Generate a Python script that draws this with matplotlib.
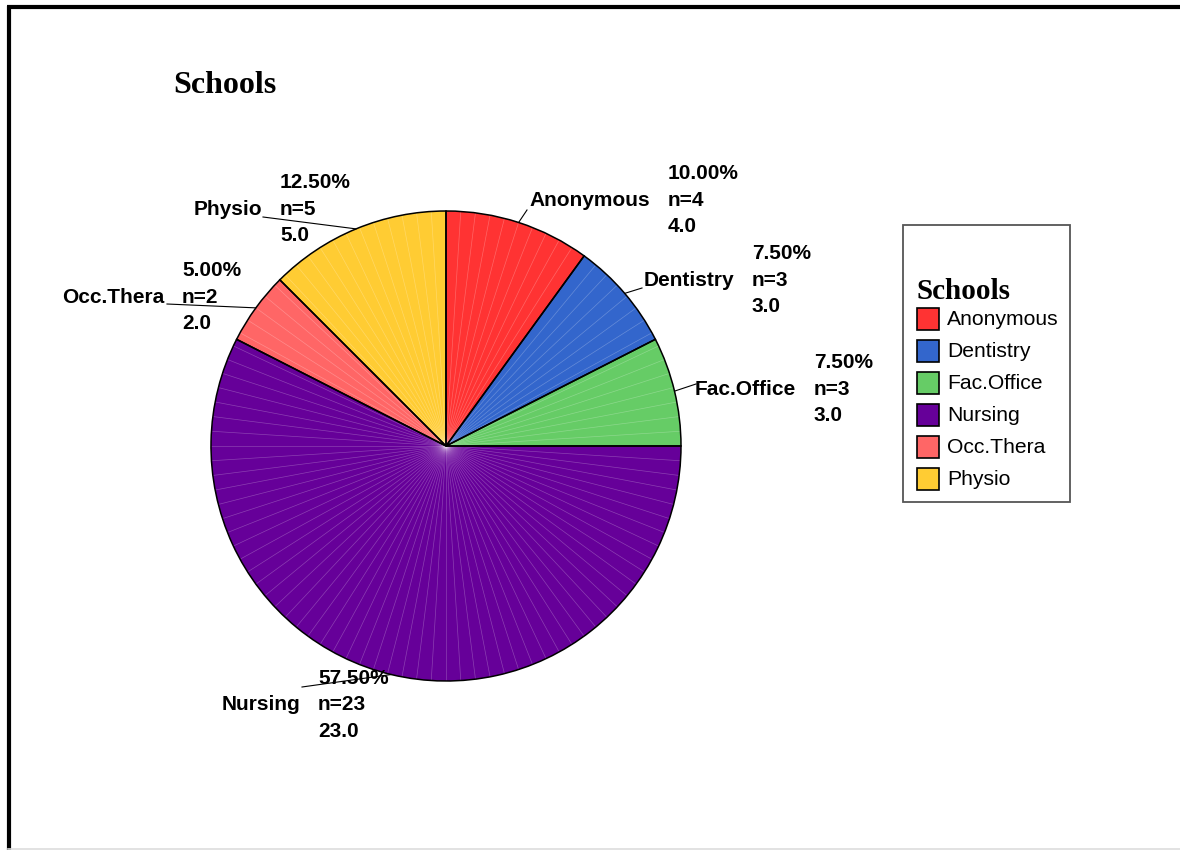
import numpy as np
import matplotlib
matplotlib.use("Agg")
import matplotlib.pyplot as plt
from matplotlib.patches import Rectangle
from matplotlib.lines import Line2D

# Survey responses by school
schools = ["Anonymous", "Dentistry", "Fac.Office", "Nursing", "Occ.Thera", "Physio"]
counts = [4, 3, 3, 23, 2, 5]
colors = ["#FF3333", "#3366CC", "#66CC66", "#660099", "#FF6666", "#FFCC33"]
title = "Schools"

W, H = 1180, 850
fig = plt.figure(figsize=(W / 100, H / 100), dpi=100)
ax = fig.add_axes([0, 0, 1, 1])


def Y(y):
    # pixel row (top-down) to data y (bottom-up)
    return H - y


def reset_axes():
    ax.set_xlim(0, W)
    ax.set_ylim(0, H)
    ax.set_aspect("equal")
    ax.axis("off")


cx, cy, R = 446, Y(446), 235
sans = ["Liberation Sans", "DejaVu Sans"]
serif = ["Liberation Serif", "DejaVu Serif"]

# filled slices
wedges, _ = ax.pie(counts, colors=colors, startangle=90, counterclock=False,
                   center=(cx, cy), radius=R, frame=True,
                   wedgeprops=dict(linewidth=0, zorder=1))
reset_axes()

# faint facet lines every 1 % of the total
for k in range(100):
    a = np.deg2rad(90 - 3.6 * k)
    ax.plot([cx, cx + R * np.cos(a)], [cy, cy + R * np.sin(a)],
            color="white", lw=0.5, alpha=0.25, zorder=2)

# slice outlines
ax.pie(counts, startangle=90, counterclock=False, center=(cx, cy), radius=R,
       frame=True, wedgeprops=dict(fill=False, edgecolor="black", linewidth=1.1, zorder=3))
reset_axes()

# label layout: stats column x, middle-line y, leader attach point (pixels)
stats_x = [668, 752, 814, 318, 182, 280]
mid_y = [198, 278, 387, 703, 295, 207]
attach = [(527, 210), (642, 288), (696, 384), (302, 687), (167, 304), (263, 217)]

total = sum(counts)
fs = 15
for i, w in enumerate(wedges):
    mid = np.deg2rad((w.theta1 + w.theta2) / 2)
    ex, ey = cx + R * np.cos(mid), cy + R * np.sin(mid)
    axp, ayp = attach[i]
    ax.plot([ex, axp], [ey, Y(ayp)], color="black", lw=0.8, zorder=4)
    base = mid_y[i] + 7.5
    ax.text(stats_x[i] - 18, Y(base), schools[i], ha="right", va="baseline",
            fontsize=fs, fontweight="bold", family=sans, zorder=5)
    lines = [f"{counts[i] / total * 100:.2f}%", f"n={counts[i]}", f"{float(counts[i]):.1f}"]
    for j, s in enumerate(lines):
        ax.text(stats_x[i], Y(base + (j - 1) * 26.7), s, ha="left", va="baseline",
                fontsize=fs, fontweight="bold", family=sans, zorder=5)

# chart title
ax.text(173, Y(93), title, ha="left", va="baseline", fontsize=23,
        fontweight="bold", family=serif)

# legend box
ax.add_patch(Rectangle((903, Y(502)), 167, 277, facecolor="white",
                       edgecolor="#555555", linewidth=1.3, zorder=5))
ax.text(916, Y(299), title, ha="left", va="baseline", fontsize=21,
        fontweight="bold", family=serif, zorder=6)
for i, (name, col) in enumerate(zip(schools, colors)):
    yc = 319 + i * 32
    ax.add_patch(Rectangle((917, Y(yc + 11)), 22, 22, facecolor=col,
                           edgecolor="black", linewidth=1.2, zorder=6))
    ax.text(947, Y(yc), name, ha="left", va="center", fontsize=15.2,
            family=sans, zorder=6)

# outer frame
fig.add_artist(Line2D([7 / W, 1.0], [1 - 7 / H, 1 - 7 / H], transform=fig.transFigure,
                      color="black", lw=3, solid_capstyle="butt"))
fig.add_artist(Line2D([8.5 / W, 8.5 / W], [0, 1 - 5.5 / H], transform=fig.transFigure,
                      color="black", lw=3, solid_capstyle="butt"))
fig.add_artist(Line2D([8 / W, 1.0], [1.2 / H, 1.2 / H], transform=fig.transFigure,
                      color="#DDDDDD", lw=1.2))

fig.savefig("out.png", dpi=100, facecolor="white")
